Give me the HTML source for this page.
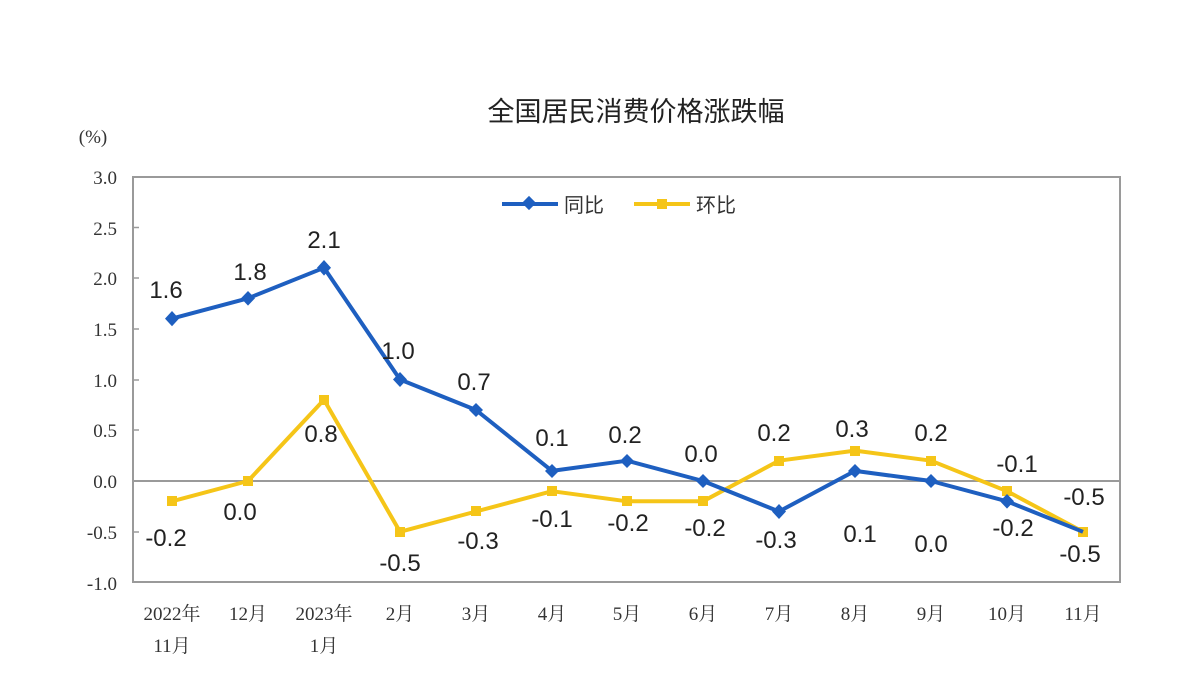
<!DOCTYPE html>
<html><head><meta charset="utf-8"><style>
body{margin:0;background:#fff;}
</style></head><body>
<svg width="1200" height="675" viewBox="0 0 1200 675" xmlns="http://www.w3.org/2000/svg">
<rect width="1200" height="675" fill="#fff"/>
<text x="636" y="121" font-size="27" text-anchor="middle" fill="#222" style="font-family:'Noto Sans CJK SC',sans-serif">全国居民消费价格涨跌幅</text>
<text x="93" y="143" font-size="19" text-anchor="middle" fill="#333" style="font-family:'Liberation Serif',serif">(%)</text>
<rect x="133" y="177" width="987" height="405" fill="none" stroke="#9a9a9a" stroke-width="2"/>
<line x1="133" y1="481" x2="1120" y2="481" stroke="#9a9a9a" stroke-width="2"/>
<g stroke="#9a9a9a" stroke-width="1.5">
<line x1="133" y1="227.5" x2="139" y2="227.5"/><line x1="133" y1="278" x2="139" y2="278"/><line x1="133" y1="329" x2="139" y2="329"/><line x1="133" y1="380" x2="139" y2="380"/><line x1="133" y1="430" x2="139" y2="430"/><line x1="133" y1="532" x2="139" y2="532"/>
</g>
<g font-size="19" fill="#333" text-anchor="end" style="font-family:'Liberation Serif',serif">
<text x="117" y="184">3.0</text><text x="117" y="235">2.5</text><text x="117" y="285">2.0</text><text x="117" y="336">1.5</text><text x="117" y="387">1.0</text><text x="117" y="437">0.5</text><text x="117" y="488">0.0</text><text x="117" y="539">-0.5</text><text x="117" y="590">-1.0</text>
</g>
<g font-size="19" fill="#333" text-anchor="middle" style="font-family:'Liberation Serif','Noto Serif CJK SC',serif">
<text x="172" y="620">2022年</text><text x="172" y="652">11月</text>
<text x="248" y="620">12月</text>
<text x="324" y="620">2023年</text><text x="324" y="652">1月</text>
<text x="400" y="620">2月</text><text x="476" y="620">3月</text><text x="552" y="620">4月</text><text x="627" y="620">5月</text><text x="703" y="620">6月</text><text x="779" y="620">7月</text><text x="855" y="620">8月</text><text x="931" y="620">9月</text><text x="1007" y="620">10月</text><text x="1083" y="620">11月</text>
</g>
<line x1="502" y1="204" x2="558" y2="204" stroke="#1e5fc0" stroke-width="4"/>
<rect x="524" y="198" width="10" height="10" fill="#1e5fc0" transform="rotate(45 529 203)"/>
<text x="564" y="212" font-size="20" fill="#333" style="font-family:'Noto Sans CJK SC',sans-serif">同比</text>
<line x1="634" y1="204" x2="690" y2="204" stroke="#f5c518" stroke-width="4"/>
<rect x="657" y="199" width="10" height="10" fill="#f5c518"/>
<text x="696" y="212" font-size="20" fill="#333" style="font-family:'Noto Sans CJK SC',sans-serif">环比</text>
<polyline fill="none" stroke="#f5c518" stroke-width="4" stroke-linejoin="round" points="172,501.3 248,481 324,399.8 400,531.8 476,511.5 552,491.2 627,501.3 703,501.3 779,460.7 855,450.6 931,460.7 1007,491.2 1083,531.8"/>
<g fill="#f5c518">
<rect x="167" y="496" width="10" height="10"/><rect x="243" y="476" width="10" height="10"/><rect x="319" y="395" width="10" height="10"/><rect x="395" y="527" width="10" height="10"/><rect x="471" y="506" width="10" height="10"/><rect x="547" y="486" width="10" height="10"/><rect x="622" y="496" width="10" height="10"/><rect x="698" y="496" width="10" height="10"/><rect x="774" y="456" width="10" height="10"/><rect x="850" y="446" width="10" height="10"/><rect x="926" y="456" width="10" height="10"/><rect x="1002" y="486" width="10" height="10"/><rect x="1078" y="527" width="10" height="10"/>
</g>
<polyline fill="none" stroke="#1e5fc0" stroke-width="4" stroke-linejoin="round" points="172,318.6 248,298.3 324,267.8 400,379.5 476,410 552,470.9 627,460.7 703,481 779,511.5 855,470.9 931,481 1007,501.3 1083,531.8"/>
<g fill="#1e5fc0">
<path d="M172 311l7 7.6-7 7.6-7-7.6z"/><path d="M248 291l7 7.3-7 7.3-7-7.3z"/><path d="M324 260l7 7.8-7 7.8-7-7.8z"/><path d="M400 372l7 7.5-7 7.5-7-7.5z"/><path d="M476 403l7 7-7 7-7-7z"/><path d="M552 464l7 7-7 7-7-7z"/><path d="M627 454l7 7-7 7-7-7z"/><path d="M703 474l7 7-7 7-7-7z"/><path d="M779 504l7 7.5-7 7.5-7-7.5z"/><path d="M855 464l7 7-7 7-7-7z"/><path d="M931 474l7 7-7 7-7-7z"/><path d="M1007 494l7 7.3-7 7.3-7-7.3z"/>
</g>
<g font-size="24" fill="#222" text-anchor="middle" style="font-family:'Liberation Sans',sans-serif">
<text x="166" y="298">1.6</text><text x="250" y="280">1.8</text><text x="324" y="248">2.1</text><text x="398" y="359">1.0</text><text x="474" y="390">0.7</text><text x="552" y="446">0.1</text><text x="625" y="443">0.2</text><text x="701" y="462">0.0</text><text x="860" y="542">0.1</text><text x="931" y="552">0.0</text><text x="1013" y="536">-0.2</text><text x="1080" y="562">-0.5</text><text x="776" y="548">-0.3</text>
<text x="166" y="546">-0.2</text><text x="240" y="520">0.0</text><text x="321" y="442">0.8</text><text x="400" y="571">-0.5</text><text x="478" y="549">-0.3</text><text x="552" y="527">-0.1</text><text x="628" y="531">-0.2</text><text x="705" y="536">-0.2</text><text x="774" y="441">0.2</text><text x="852" y="437">0.3</text><text x="931" y="441">0.2</text><text x="1017" y="472">-0.1</text><text x="1084" y="505">-0.5</text>
</g>
</svg>
</body></html>
